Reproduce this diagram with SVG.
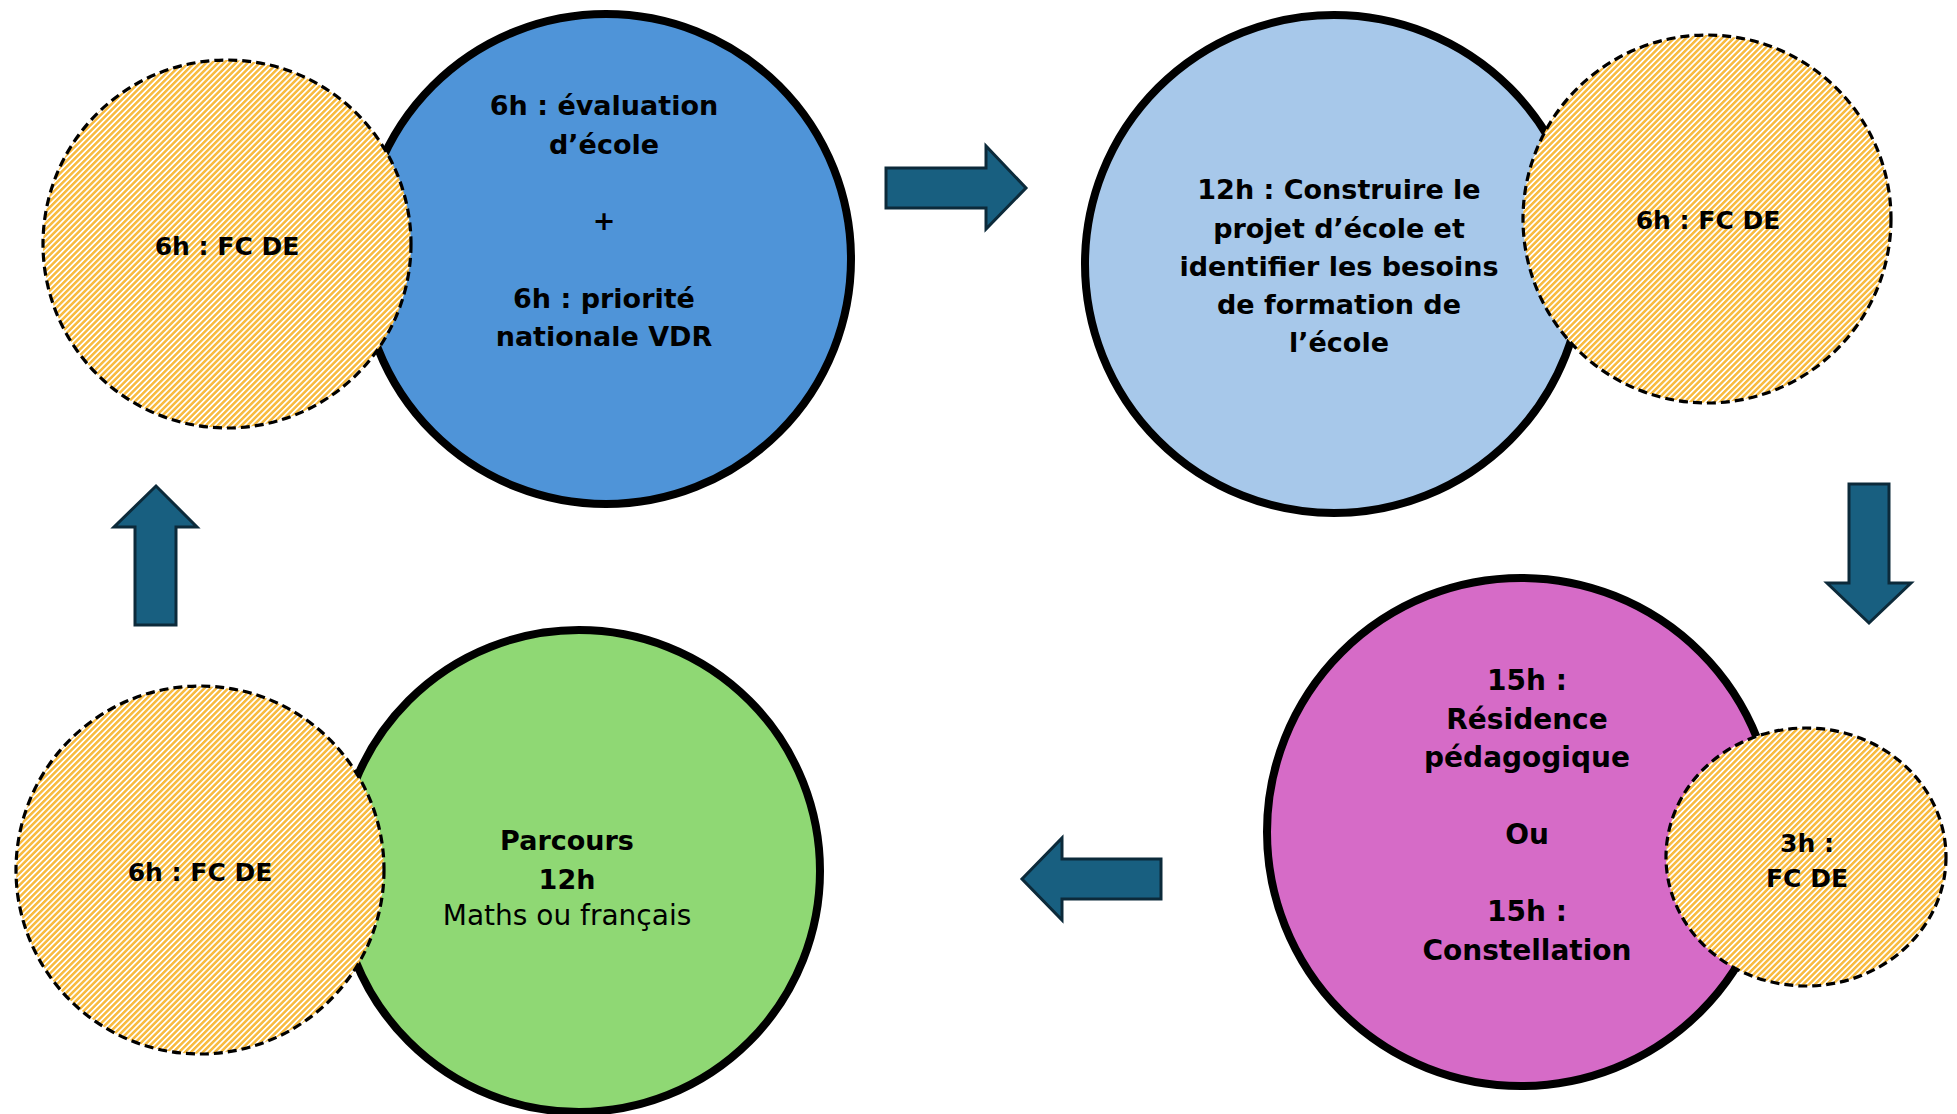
<svg xmlns="http://www.w3.org/2000/svg" width="1957" height="1114" viewBox="0 0 1957 1114">
  <defs>
    <pattern id="hatch" patternUnits="userSpaceOnUse" width="4.2" height="4.2" patternTransform="rotate(45)">
      <rect width="4.2" height="4.2" fill="#ffffff"/>
      <rect width="2.5" height="4.2" fill="#f8bb40"/>
    </pattern>
  </defs>
  <style>
    .main { stroke: #000; stroke-width: 8; }
    .fc { fill: url(#hatch); stroke: #000; stroke-width: 3.2; stroke-dasharray: 9 5; }
    .arrow { fill: #185f80; stroke: #0c2a3a; stroke-width: 3; stroke-linejoin: miter; }
    text { font-family: "DejaVu Sans", "Liberation Sans", sans-serif; fill: #000; text-anchor: middle; }
    .b { font-weight: bold; font-size: 27px; }
    .p { font-weight: bold; font-size: 28px; }
    .s { font-weight: bold; font-size: 25px; }
    .l { font-weight: normal; font-size: 28px; }
  </style>
  <rect width="1957" height="1114" fill="#ffffff"/>

  <g id="connectors">
    <path class="arrow" d="M886,168 H986 V146 L1026,188 L986,229 V208 H886 Z"/>
    <path class="arrow" d="M1849,484 H1889 V583 H1911 L1869,623 L1827,583 H1849 Z"/>
    <path class="arrow" d="M1161,859 V899 H1062 V920 L1022,879 L1062,838 V859 Z"/>
    <path class="arrow" d="M135,625 V527 H114 L156,486 L197,527 H176 V625 Z"/>
  </g>

  <g id="node-evaluation">
    <circle class="main" cx="606" cy="259" r="245" fill="#4f94d8"/>
    <text class="b" x="604" y="115">6h : évaluation</text>
    <text class="b" x="604" y="153.5">d’école</text>
    <text class="b" x="604" y="230">+</text>
    <text class="b" x="604" y="307.5">6h : priorité</text>
    <text class="b" x="604" y="346">nationale VDR</text>
  </g>
  <g id="node-fc-1">
    <circle class="fc" cx="227" cy="244" r="184"/>
    <text class="s" x="227" y="255">6h : FC DE</text>
  </g>

  <g id="node-projet">
    <circle class="main" cx="1334" cy="264" r="249" fill="#a7c8ea"/>
    <text class="b" x="1339" y="199">12h : Construire le</text>
    <text class="b" x="1339" y="237.5">projet d’école et</text>
    <text class="b" x="1339" y="276">identifier les besoins</text>
    <text class="b" x="1339" y="314">de formation de</text>
    <text class="b" x="1339" y="352">l’école</text>
  </g>
  <g id="node-fc-2">
    <circle class="fc" cx="1707" cy="219" r="184"/>
    <text class="s" x="1708" y="229">6h : FC DE</text>
  </g>

  <g id="node-residence">
    <circle class="main" cx="1521" cy="832" r="254" fill="#d66bc7"/>
    <text class="p" x="1527" y="690">15h :</text>
    <text class="p" x="1527" y="728.5">Résidence</text>
    <text class="p" x="1527" y="767">pédagogique</text>
    <text class="p" x="1527" y="844">Ou</text>
    <text class="p" x="1527" y="921">15h :</text>
    <text class="p" x="1527" y="959.5">Constellation</text>
  </g>
  <g id="node-fc-3">
    <ellipse class="fc" cx="1806" cy="857" rx="140" ry="129"/>
    <text class="s" x="1807" y="852">3h :</text>
    <text class="s" x="1807" y="887">FC DE</text>
  </g>

  <g id="node-parcours">
    <circle class="main" cx="579" cy="871" r="241" fill="#8fd874"/>
    <text class="b" x="567" y="850">Parcours</text>
    <text class="b" x="567" y="888.5">12h</text>
    <text class="l" x="567" y="924.5">Maths ou français</text>
  </g>
  <g id="node-fc-4">
    <circle class="fc" cx="200" cy="870" r="184"/>
    <text class="s" x="200" y="881">6h : FC DE</text>
  </g>
</svg>
